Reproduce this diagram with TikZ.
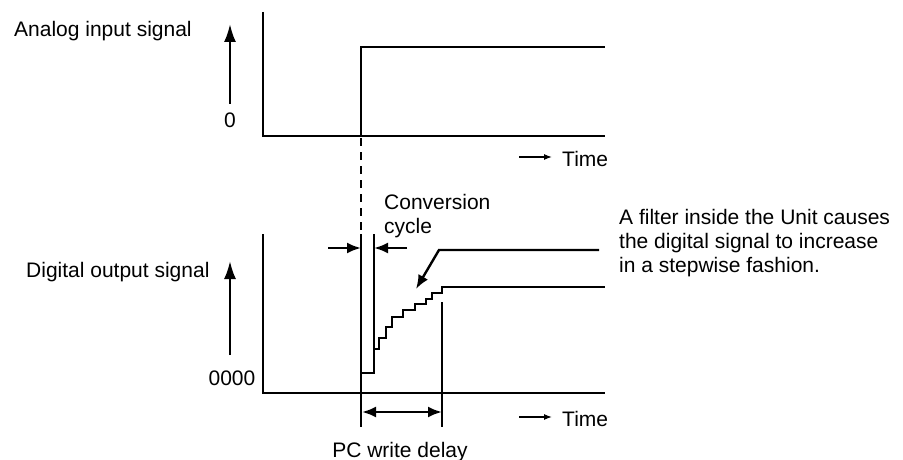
\documentclass[tikz,border=0pt]{standalone}
\usepackage{fontspec}
\setmainfont{Liberation Sans}
\usetikzlibrary{arrows.meta}

\begin{document}
\begin{tikzpicture}[x=1pt, y=-1pt, line width=2.4pt,
    every node/.style={font=\fontsize{21}{24}\selectfont, inner sep=0pt},
    bigarrow/.style={-{Latex[length=18pt,width=12pt]}},
    midarrow/.style={-{Latex[length=14pt,width=11pt]}},
    timearrow/.style={line width=1.2pt, -{Latex[length=8pt,width=6pt]}}]
    \useasboundingbox (0,0) rectangle (903,460);

    % analog input signal
    \node[anchor=base west] (alabel) at (13,37) {Analog input signal};
    \coordinate (abot) at (230,104);
    \coordinate (atop) at (230,24);
    \draw[bigarrow] (abot) -- (atop);
    \node[anchor=base] (azero) at (230,128) {0};
    \draw (263,12) -- (263,136) -- (605,136);
    \draw (361,136) -- (361,47) -- (605,47);
    \coordinate (tone) at (519,157);
    \coordinate (ttwo) at (552,157);
    \draw[timearrow] (tone) -- (ttwo);
    \node[anchor=base west] (atime) at (561,166) {Time};

    % trigger line
    \draw[dash pattern=on 8pt off 6pt, line width=2pt] (361,138) -- (361,234);

    % digital output signal
    \node[anchor=base west] (dlabel) at (25,277) {Digital output signal};
    \coordinate (dbot) at (230,355);
    \coordinate (dtop) at (230,261);
    \draw[bigarrow] (dbot) -- (dtop);
    \node[anchor=base] (dzero) at (232,385) {0000};
    \draw (263,234) -- (263,393) -- (605,393);
    \draw (361,234) -- (361,427);
    \draw (374,234) -- (374,373) -- (361,373);
    \draw (374,349) -- (379,349) -- (379,338) -- (386,338) -- (386,327)
      -- (392,327) -- (392,317) -- (403,317) -- (403,310) -- (415,310)
      -- (415,304) -- (426,304) -- (426,299) -- (432,299) -- (432,293)
      -- (442,293) -- (442,287) -- (605,287);
    \draw (442,302) -- (442,427);
    \coordinate (ftip) at (416,289);
    \draw[midarrow] (599,250) -- (439,250) -- (ftip);
    \node[anchor=base west, align=left] (fnote) at (618,272)
      {A filter inside the Unit causes\\the digital signal to increase\\in a stepwise fashion.};

    % conversion cycle
    \node[anchor=base west, align=left] (cconv) at (383,233) {Conversion\\cycle};
    \coordinate (cl) at (328,248);
    \coordinate (cr) at (407,248);
    \draw[midarrow] (cl) -- (361,248);
    \draw[midarrow] (cr) -- (374,248);

    % PC write delay
    \coordinate (pl) at (362,412);
    \coordinate (pr) at (442,412);
    \draw[{Latex[length=14pt,width=11pt]}-{Latex[length=14pt,width=11pt]}] (pl) -- (pr);
    \node[anchor=base] (pdelay) at (400,457) {PC write delay};
    \coordinate (bone) at (519,417);
    \coordinate (btwo) at (552,417);
    \draw[timearrow] (bone) -- (btwo);
    \node[anchor=base west] (btime) at (561,426) {Time};
\end{tikzpicture}
\end{document}
